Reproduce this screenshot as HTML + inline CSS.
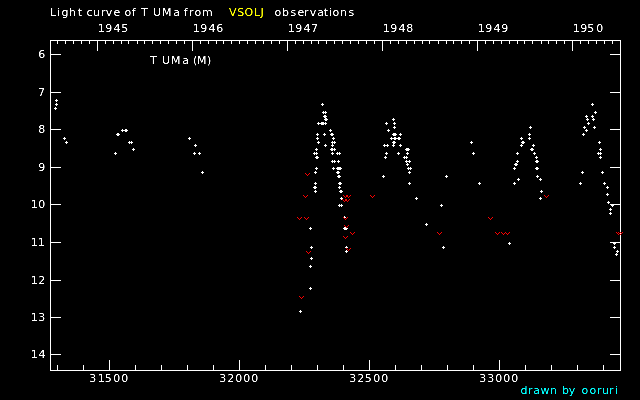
<!DOCTYPE html>
<html><head><meta charset="utf-8"><title>Light curve of T UMa</title>
<style>
html,body{margin:0;padding:0;background:#000;}
body{width:640px;height:400px;position:relative;overflow:hidden;font-family:"DejaVu Sans","Liberation Sans",sans-serif;font-size:11px;}
svg{position:absolute;left:0;top:0;}
</style></head><body>
<svg width="640" height="400" viewBox="0 0 640 400" shape-rendering="crispEdges">
<rect width="640" height="400" fill="#000"/>
<path fill="#fff" d="M50 40h571v1h-571zM50 370h571v1h-571zM50 40h1v331h-1zM620 40h1v331h-1zM50 54h11v1h-11zM610 54h11v1h-11zM50 92h11v1h-11zM610 92h11v1h-11zM50 129h11v1h-11zM610 129h11v1h-11zM50 167h11v1h-11zM610 167h11v1h-11zM50 204h11v1h-11zM610 204h11v1h-11zM50 242h11v1h-11zM610 242h11v1h-11zM50 280h11v1h-11zM610 280h11v1h-11zM50 317h11v1h-11zM610 317h11v1h-11zM50 354h11v1h-11zM610 354h11v1h-11zM57 365h1v5h-1zM83 365h1v5h-1zM109 360h1v10h-1zM135 365h1v5h-1zM161 365h1v5h-1zM187 365h1v5h-1zM213 365h1v5h-1zM239 360h1v10h-1zM265 365h1v5h-1zM291 365h1v5h-1zM317 365h1v5h-1zM343 365h1v5h-1zM369 360h1v10h-1zM395 365h1v5h-1zM421 365h1v5h-1zM447 365h1v5h-1zM473 365h1v5h-1zM499 360h1v10h-1zM525 365h1v5h-1zM551 365h1v5h-1zM577 365h1v5h-1zM603 365h1v5h-1zM57 40h1v4h-1zM65 40h1v4h-1zM73 40h1v4h-1zM81 40h1v4h-1zM89 40h1v4h-1zM97 40h1v11h-1zM105 40h1v4h-1zM113 40h1v4h-1zM121 40h1v4h-1zM128 40h1v4h-1zM137 40h1v4h-1zM144 40h1v4h-1zM152 40h1v4h-1zM160 40h1v4h-1zM168 40h1v4h-1zM176 40h1v4h-1zM184 40h1v4h-1zM192 40h1v11h-1zM200 40h1v4h-1zM208 40h1v4h-1zM216 40h1v4h-1zM223 40h1v4h-1zM231 40h1v4h-1zM239 40h1v4h-1zM247 40h1v4h-1zM255 40h1v4h-1zM263 40h1v4h-1zM271 40h1v4h-1zM279 40h1v4h-1zM287 40h1v11h-1zM295 40h1v4h-1zM303 40h1v4h-1zM311 40h1v4h-1zM318 40h1v4h-1zM326 40h1v4h-1zM334 40h1v4h-1zM342 40h1v4h-1zM350 40h1v4h-1zM358 40h1v4h-1zM366 40h1v4h-1zM374 40h1v4h-1zM382 40h1v11h-1zM390 40h1v4h-1zM398 40h1v4h-1zM406 40h1v4h-1zM414 40h1v4h-1zM422 40h1v4h-1zM429 40h1v4h-1zM438 40h1v4h-1zM446 40h1v4h-1zM453 40h1v4h-1zM461 40h1v4h-1zM469 40h1v4h-1zM477 40h1v11h-1zM485 40h1v4h-1zM493 40h1v4h-1zM501 40h1v4h-1zM509 40h1v4h-1zM517 40h1v4h-1zM524 40h1v4h-1zM532 40h1v4h-1zM541 40h1v4h-1zM548 40h1v4h-1zM556 40h1v4h-1zM564 40h1v4h-1zM572 40h1v11h-1zM580 40h1v4h-1zM588 40h1v4h-1zM596 40h1v4h-1zM604 40h1v4h-1zM612 40h1v4h-1zM55 100h3v1h-3zM56 99h1v3h-1zM55 104h3v1h-3zM56 103h1v3h-1zM54 108h3v1h-3zM55 107h1v3h-1zM63 138h3v1h-3zM64 137h1v3h-1zM65 142h3v1h-3zM66 141h1v3h-1zM114 153h3v1h-3zM115 152h1v3h-1zM116 134h3v1h-3zM117 133h1v3h-1zM117 134h3v1h-3zM118 133h1v3h-1zM121 130h3v1h-3zM122 129h1v3h-1zM124 130h3v1h-3zM125 129h1v3h-1zM125 130h3v1h-3zM126 129h1v3h-1zM128 142h3v1h-3zM129 141h1v3h-1zM130 142h3v1h-3zM131 141h1v3h-1zM132 149h3v1h-3zM133 148h1v3h-1zM188 138h3v1h-3zM189 137h1v3h-1zM194 145h3v1h-3zM195 144h1v3h-1zM193 153h3v1h-3zM194 152h1v3h-1zM198 153h3v1h-3zM199 152h1v3h-1zM201 172h3v1h-3zM202 171h1v3h-1zM321 104h3v1h-3zM322 103h1v3h-1zM322 112h3v1h-3zM323 111h1v3h-1zM324 112h3v1h-3zM325 111h1v3h-1zM323 116h3v1h-3zM324 115h1v3h-1zM324 116h3v1h-3zM325 115h1v3h-1zM324 119h3v1h-3zM325 118h1v3h-1zM325 119h3v1h-3zM326 118h1v3h-1zM317 123h3v1h-3zM318 122h1v3h-1zM320 123h3v1h-3zM321 122h1v3h-1zM321 123h3v1h-3zM322 122h1v3h-1zM322 123h3v1h-3zM323 122h1v3h-1zM324 123h3v1h-3zM325 122h1v3h-1zM329 130h3v1h-3zM330 129h1v3h-1zM316 134h3v1h-3zM317 133h1v3h-1zM323 134h3v1h-3zM324 133h1v3h-1zM330 134h3v1h-3zM331 133h1v3h-1zM331 134h3v1h-3zM332 133h1v3h-1zM316 138h3v1h-3zM317 137h1v3h-1zM332 138h3v1h-3zM333 137h1v3h-1zM317 142h3v1h-3zM318 141h1v3h-1zM331 142h3v1h-3zM332 141h1v3h-1zM333 142h3v1h-3zM334 141h1v3h-1zM324 145h3v1h-3zM325 144h1v3h-1zM331 145h3v1h-3zM332 144h1v3h-1zM315 149h3v1h-3zM316 148h1v3h-1zM330 149h3v1h-3zM331 148h1v3h-1zM331 149h3v1h-3zM332 148h1v3h-1zM333 149h3v1h-3zM334 148h1v3h-1zM313 153h3v1h-3zM314 152h1v3h-1zM315 153h3v1h-3zM316 152h1v3h-1zM331 153h3v1h-3zM332 152h1v3h-1zM336 153h3v1h-3zM337 152h1v3h-1zM338 153h3v1h-3zM339 152h1v3h-1zM315 157h3v1h-3zM316 156h1v3h-1zM316 157h3v1h-3zM317 156h1v3h-1zM331 161h3v1h-3zM332 160h1v3h-1zM333 161h3v1h-3zM334 160h1v3h-1zM337 161h3v1h-3zM338 160h1v3h-1zM315 168h3v1h-3zM316 167h1v3h-1zM332 168h3v1h-3zM333 167h1v3h-1zM336 168h3v1h-3zM337 167h1v3h-1zM337 168h3v1h-3zM338 167h1v3h-1zM338 168h3v1h-3zM339 167h1v3h-1zM339 168h3v1h-3zM340 167h1v3h-1zM314 172h3v1h-3zM315 171h1v3h-1zM336 172h3v1h-3zM337 171h1v3h-1zM337 172h3v1h-3zM338 171h1v3h-1zM337 176h3v1h-3zM338 175h1v3h-1zM338 176h3v1h-3zM339 175h1v3h-1zM314 183h3v1h-3zM315 182h1v3h-1zM338 183h3v1h-3zM339 182h1v3h-1zM339 183h3v1h-3zM340 182h1v3h-1zM313 187h3v1h-3zM314 186h1v3h-1zM314 187h3v1h-3zM315 186h1v3h-1zM338 187h3v1h-3zM339 186h1v3h-1zM314 191h3v1h-3zM315 190h1v3h-1zM339 191h3v1h-3zM340 190h1v3h-1zM340 191h3v1h-3zM341 190h1v3h-1zM340 198h3v1h-3zM341 197h1v3h-1zM338 205h3v1h-3zM339 204h1v3h-1zM340 205h3v1h-3zM341 204h1v3h-1zM343 217h3v1h-3zM344 216h1v3h-1zM309 228h3v1h-3zM310 227h1v3h-1zM343 228h3v1h-3zM344 227h1v3h-1zM344 228h3v1h-3zM345 227h1v3h-1zM345 228h3v1h-3zM346 227h1v3h-1zM310 247h3v1h-3zM311 246h1v3h-1zM345 247h3v1h-3zM346 246h1v3h-1zM345 251h3v1h-3zM346 250h1v3h-1zM310 258h3v1h-3zM311 257h1v3h-1zM309 266h3v1h-3zM310 265h1v3h-1zM309 288h3v1h-3zM310 287h1v3h-1zM299 311h3v1h-3zM300 310h1v3h-1zM392 119h3v1h-3zM393 118h1v3h-1zM385 123h3v1h-3zM386 122h1v3h-1zM393 123h3v1h-3zM394 122h1v3h-1zM393 127h3v1h-3zM394 126h1v3h-1zM387 130h3v1h-3zM388 129h1v3h-1zM392 134h3v1h-3zM393 133h1v3h-1zM393 134h3v1h-3zM394 133h1v3h-1zM394 134h3v1h-3zM395 133h1v3h-1zM399 134h3v1h-3zM400 133h1v3h-1zM390 138h3v1h-3zM391 137h1v3h-1zM393 138h3v1h-3zM394 137h1v3h-1zM394 138h3v1h-3zM395 137h1v3h-1zM397 138h3v1h-3zM398 137h1v3h-1zM398 138h3v1h-3zM399 137h1v3h-1zM392 142h3v1h-3zM393 141h1v3h-1zM393 142h3v1h-3zM394 141h1v3h-1zM383 145h3v1h-3zM384 144h1v3h-1zM386 145h3v1h-3zM387 144h1v3h-1zM392 145h3v1h-3zM393 144h1v3h-1zM399 145h3v1h-3zM400 144h1v3h-1zM405 149h3v1h-3zM406 148h1v3h-1zM406 149h3v1h-3zM407 148h1v3h-1zM407 149h3v1h-3zM408 148h1v3h-1zM385 153h3v1h-3zM386 152h1v3h-1zM397 153h3v1h-3zM398 152h1v3h-1zM406 153h3v1h-3zM407 152h1v3h-1zM384 157h3v1h-3zM385 156h1v3h-1zM403 157h3v1h-3zM404 156h1v3h-1zM405 157h3v1h-3zM406 156h1v3h-1zM405 161h3v1h-3zM406 160h1v3h-1zM408 161h3v1h-3zM409 160h1v3h-1zM406 164h3v1h-3zM407 163h1v3h-1zM407 168h3v1h-3zM408 167h1v3h-1zM409 168h3v1h-3zM410 167h1v3h-1zM408 172h3v1h-3zM409 171h1v3h-1zM382 176h3v1h-3zM383 175h1v3h-1zM408 183h3v1h-3zM409 182h1v3h-1zM415 198h3v1h-3zM416 197h1v3h-1zM445 176h3v1h-3zM446 175h1v3h-1zM440 205h3v1h-3zM441 204h1v3h-1zM425 224h3v1h-3zM426 223h1v3h-1zM442 247h3v1h-3zM443 246h1v3h-1zM470 142h3v1h-3zM471 141h1v3h-1zM472 153h3v1h-3zM473 152h1v3h-1zM478 183h3v1h-3zM479 182h1v3h-1zM529 127h3v1h-3zM530 126h1v3h-1zM528 134h3v1h-3zM529 133h1v3h-1zM520 138h3v1h-3zM521 137h1v3h-1zM528 138h3v1h-3zM529 137h1v3h-1zM521 142h3v1h-3zM522 141h1v3h-1zM522 142h3v1h-3zM523 141h1v3h-1zM520 145h3v1h-3zM521 144h1v3h-1zM532 145h3v1h-3zM533 144h1v3h-1zM530 149h3v1h-3zM531 148h1v3h-1zM531 149h3v1h-3zM532 148h1v3h-1zM516 153h3v1h-3zM517 152h1v3h-1zM533 153h3v1h-3zM534 152h1v3h-1zM535 157h3v1h-3zM536 156h1v3h-1zM516 161h3v1h-3zM517 160h1v3h-1zM535 161h3v1h-3zM536 160h1v3h-1zM536 161h3v1h-3zM537 160h1v3h-1zM514 164h3v1h-3zM515 163h1v3h-1zM515 164h3v1h-3zM516 163h1v3h-1zM513 168h3v1h-3zM514 167h1v3h-1zM535 168h3v1h-3zM536 167h1v3h-1zM536 168h3v1h-3zM537 167h1v3h-1zM536 176h3v1h-3zM537 175h1v3h-1zM517 179h3v1h-3zM518 178h1v3h-1zM539 179h3v1h-3zM540 178h1v3h-1zM513 183h3v1h-3zM514 182h1v3h-1zM540 191h3v1h-3zM541 190h1v3h-1zM539 198h3v1h-3zM540 197h1v3h-1zM508 243h3v1h-3zM509 242h1v3h-1zM591 104h3v1h-3zM592 103h1v3h-1zM594 112h3v1h-3zM595 111h1v3h-1zM585 116h3v1h-3zM586 115h1v3h-1zM591 116h3v1h-3zM592 115h1v3h-1zM586 119h3v1h-3zM587 118h1v3h-1zM592 119h3v1h-3zM593 118h1v3h-1zM587 123h3v1h-3zM588 122h1v3h-1zM583 127h3v1h-3zM584 126h1v3h-1zM593 127h3v1h-3zM594 126h1v3h-1zM585 130h3v1h-3zM586 129h1v3h-1zM582 134h3v1h-3zM583 133h1v3h-1zM598 142h3v1h-3zM599 141h1v3h-1zM599 149h3v1h-3zM600 148h1v3h-1zM597 153h3v1h-3zM598 152h1v3h-1zM599 153h3v1h-3zM600 152h1v3h-1zM599 157h3v1h-3zM600 156h1v3h-1zM581 172h3v1h-3zM582 171h1v3h-1zM601 172h3v1h-3zM602 171h1v3h-1zM579 183h3v1h-3zM580 182h1v3h-1zM603 183h3v1h-3zM604 182h1v3h-1zM606 187h3v1h-3zM607 186h1v3h-1zM606 194h3v1h-3zM607 193h1v3h-1zM607 202h3v1h-3zM608 201h1v3h-1zM611 205h3v1h-3zM612 204h1v3h-1zM609 209h3v1h-3zM610 208h1v3h-1zM609 213h3v1h-3zM610 212h1v3h-1zM613 243h3v1h-3zM614 242h1v3h-1zM613 247h3v1h-3zM614 246h1v3h-1zM616 251h3v1h-3zM617 250h1v3h-1zM615 254h3v1h-3zM616 253h1v3h-1z"/>
<path fill="#f00" d="M305 173h1v1h-1zM306 174h1v1h-1zM307 175h1v1h-1zM308 174h1v1h-1zM309 173h1v1h-1zM303 195h1v1h-1zM304 196h1v1h-1zM305 197h1v1h-1zM306 196h1v1h-1zM307 195h1v1h-1zM343 195h1v1h-1zM344 196h1v1h-1zM345 197h1v1h-1zM346 196h1v1h-1zM347 195h1v1h-1zM346 195h1v1h-1zM347 196h1v1h-1zM348 197h1v1h-1zM349 196h1v1h-1zM350 195h1v1h-1zM342 199h1v1h-1zM343 200h1v1h-1zM344 201h1v1h-1zM345 200h1v1h-1zM346 199h1v1h-1zM345 199h1v1h-1zM346 200h1v1h-1zM347 201h1v1h-1zM348 200h1v1h-1zM349 199h1v1h-1zM297 217h1v1h-1zM298 218h1v1h-1zM299 219h1v1h-1zM300 218h1v1h-1zM301 217h1v1h-1zM304 217h1v1h-1zM305 218h1v1h-1zM306 219h1v1h-1zM307 218h1v1h-1zM308 217h1v1h-1zM343 217h1v1h-1zM344 218h1v1h-1zM345 219h1v1h-1zM346 218h1v1h-1zM347 217h1v1h-1zM344 225h1v1h-1zM345 226h1v1h-1zM346 227h1v1h-1zM347 226h1v1h-1zM348 225h1v1h-1zM350 232h1v1h-1zM351 233h1v1h-1zM352 234h1v1h-1zM353 233h1v1h-1zM354 232h1v1h-1zM343 236h1v1h-1zM344 237h1v1h-1zM345 238h1v1h-1zM346 237h1v1h-1zM347 236h1v1h-1zM346 248h1v1h-1zM347 249h1v1h-1zM348 250h1v1h-1zM349 249h1v1h-1zM350 248h1v1h-1zM306 251h1v1h-1zM307 252h1v1h-1zM308 253h1v1h-1zM309 252h1v1h-1zM310 251h1v1h-1zM299 296h1v1h-1zM300 297h1v1h-1zM301 298h1v1h-1zM302 297h1v1h-1zM303 296h1v1h-1zM370 195h1v1h-1zM371 196h1v1h-1zM372 197h1v1h-1zM373 196h1v1h-1zM374 195h1v1h-1zM437 232h1v1h-1zM438 233h1v1h-1zM439 234h1v1h-1zM440 233h1v1h-1zM441 232h1v1h-1zM544 195h1v1h-1zM545 196h1v1h-1zM546 197h1v1h-1zM547 196h1v1h-1zM548 195h1v1h-1zM488 217h1v1h-1zM489 218h1v1h-1zM490 219h1v1h-1zM491 218h1v1h-1zM492 217h1v1h-1zM495 232h1v1h-1zM496 233h1v1h-1zM497 234h1v1h-1zM498 233h1v1h-1zM499 232h1v1h-1zM501 232h1v1h-1zM502 233h1v1h-1zM503 234h1v1h-1zM504 233h1v1h-1zM505 232h1v1h-1zM505 232h1v1h-1zM506 233h1v1h-1zM507 234h1v1h-1zM508 233h1v1h-1zM509 232h1v1h-1zM616 232h1v1h-1zM617 233h1v1h-1zM618 234h1v1h-1zM619 233h1v1h-1zM620 232h1v1h-1zM618 232h1v1h-1zM619 233h1v1h-1zM620 234h1v1h-1zM621 233h1v1h-1zM622 232h1v1h-1z"/>
<defs><filter id="sh" x="-5%" y="-5%" width="110%" height="110%" color-interpolation-filters="sRGB"><feComponentTransfer><feFuncA type="linear" slope="1.8" intercept="-0.35"/></feComponentTransfer></filter></defs>
<g font-family="'DejaVu Sans','Liberation Sans',sans-serif" font-size="11" filter="url(#sh)" shape-rendering="auto">
<text x="49.92 56.96 61.39 69 77.7 82.02 86.39 93.07 101 105.67 113.39 120.16 124.39 131.75 135.62 141.03 147.75 153.04 161.92 173.34 180.08 183.75 189 194.39 202" y="16" fill="#fff">Light curve of T UMa from</text>
<text x="228.91 237.27 244.38 253.92 260.57" y="16" fill="#ff0">VSOLJ</text>
<text x="274.39 282 290.4 297.39 304 309.67 317.34 323.7 328.96 332.39 340 348.4" y="16" fill="#fff">observations</text>
<text x="97.79 105.31 113.46 121.15" y="32" fill="#fff">1945</text>
<text x="192.79 200.31 208.46 216.23" y="32" fill="#fff">1946</text>
<text x="287.79 295.31 303.46 311.1" y="32" fill="#fff">1947</text>
<text x="382.79 390.31 398.46 406.25" y="32" fill="#fff">1948</text>
<text x="477.79 485.31 493.46 501.31" y="32" fill="#fff">1949</text>
<text x="572.79 580.31 587.15 596.27" y="32" fill="#fff">1950</text>
<text x="150.03 156.75 162.04 170.92 182.34 189.08 193.05 196.92 207.12" y="64" fill="#fff">T UMa (M)</text>
<text x="38.23" y="58" fill="#fff">6</text>
<text x="38.1" y="96" fill="#fff">7</text>
<text x="38.25" y="133" fill="#fff">8</text>
<text x="38.31" y="171" fill="#fff">9</text>
<text x="30.79 38.27" y="208" fill="#fff">10</text>
<text x="30.79 37.79" y="246" fill="#fff">11</text>
<text x="30.79 38.19" y="284" fill="#fff">12</text>
<text x="30.79 38.16" y="321" fill="#fff">13</text>
<text x="30.79 38.46" y="358" fill="#fff">14</text>
<text x="89.16 97.79 104.65 113.27 121.27" y="382" fill="#fff">31500</text>
<text x="219.16 227.19 235.27 243.27 251.27" y="382" fill="#fff">32000</text>
<text x="349.16 357.19 364.65 373.27 381.27" y="382" fill="#fff">32500</text>
<text x="479.16 487.16 495.27 503.27 511.27" y="382" fill="#fff">33000</text>
<text x="520.39 528 533.34 540.54 550 556.97 562 568.67 575.18 581.39 589.39 597 602.07 609 614.96" y="394" fill="#0ff">drawn by ooruri</text>
</g>
</svg>
</body></html>
